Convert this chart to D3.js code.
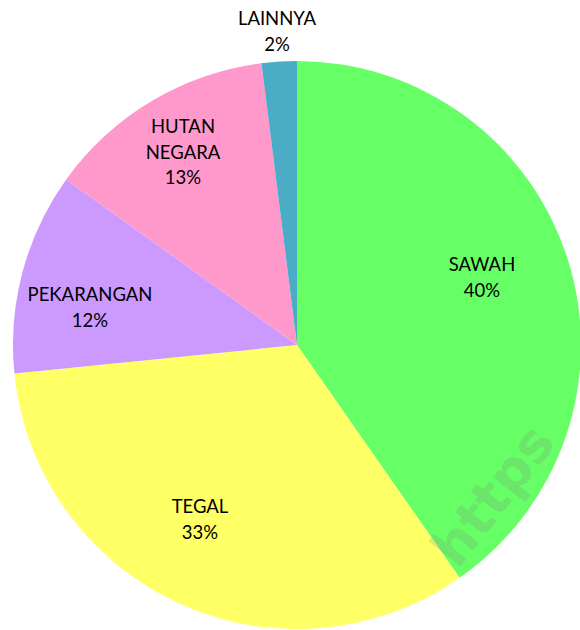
<!DOCTYPE html>
<html><head><meta charset="utf-8">
<script src="https://cdn.jsdelivr.net/npm/d3@7"></script>
<style>html,body{margin:0;padding:0;background:#fff;}svg{display:block;}</style>
</head><body>
<svg id="chart" width="580" height="630"></svg>
<script>
const categories = ["SAWAH", "TEGAL", "PEKARANGAN", "HUTAN NEGARA", "LAINNYA"];
const values = [40.3, 33.1, 11.5, 13.1, 2.0];
const colors = ["#66FF66", "#FFFF66", "#CC99FF", "#FF99CC", "#4BACC6"];

const svg = d3.select("#chart");
const cx = 297, cy = 345, r = 284;
const g = svg.append("g").attr("transform", `translate(${cx},${cy})`);
const pie = d3.pie().sort(null).value(d => d);
const arcs = pie(values);
const arc = d3.arc().innerRadius(0).outerRadius(r);
const total = d3.sum(values);

g.selectAll("path").data(arcs).enter().append("path")
  .attr("d", arc).attr("fill", (d, i) => colors[i]);

const labelPos = [
  [185, -74], [-97, 168], [-207, -44], [-114, -212], [-20, -320]
];
const lines = (name) => name === "HUTAN NEGARA" ? ["HUTAN", "NEGARA"] : [name];
arcs.forEach((a, i) => {
  const ls = lines(categories[i]).concat([Math.round(a.value / total * 100) + "%"]);
  const t = g.append("text")
    .attr("text-anchor", "middle")
    .attr("font-family", "Lato, 'Open Sans', sans-serif")
    .attr("font-size", 18.5)
    .attr("fill", "#000");
  ls.forEach((s, j) => {
    t.append("tspan").attr("x", labelPos[i][0]).attr("y", labelPos[i][1] + j * 25.5).text(s);
  });
});

// watermark
svg.append("text")
  .attr("transform", "translate(458,570) rotate(-52)")
  .attr("font-family", "'DejaVu Sans', sans-serif")
  .attr("font-weight", "bold")
  .attr("font-size", 54)
  .attr("fill", "#808080")
  .attr("fill-opacity", 0.2)
  .text("https");
</script>
</body></html>
